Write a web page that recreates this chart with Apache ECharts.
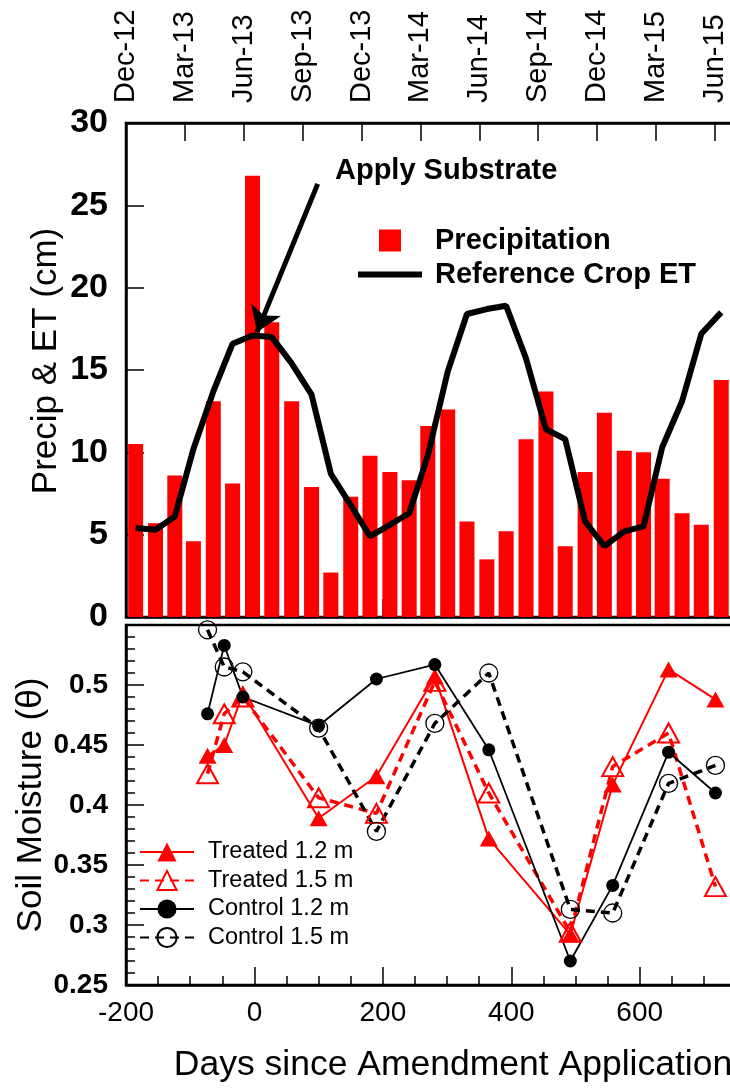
<!DOCTYPE html>
<html>
<head>
<meta charset="utf-8">
<script src="https://cdn.jsdelivr.net/npm/echarts@6/dist/echarts.min.js"></script>
<style>
  html, body { margin: 0; padding: 0; background: #fff; overflow: hidden; }
  /* the original figure runs past the right edge of the picture, so the canvas is wider than the window */
  #chart { width: 770px; height: 1088px; }
</style>
</head>
<body>
<div id="chart"></div>
<script>
const FONT = '"Liberation Sans", Arial, sans-serif';

// monthly totals, placed at mid-month (days since amendment application)
const monthDays = [-185, -154, -124, -95, -64, -34, -3, 27, 58, 89, 119, 150, 180, 211, 241, 270,
                   301, 331, 362, 392, 423, 454, 484, 515, 545, 576, 606, 635, 666, 696, 727];
const precip = [10.5, 5.7, 8.6, 4.6, 13.1, 8.1, 26.8, 17.9, 13.1, 7.9, 2.7, 7.3, 9.8, 8.8, 8.3, 11.6,
                12.6, 5.8, 3.5, 5.2, 10.8, 13.7, 4.3, 8.8, 12.4, 10.1, 10.0, 8.4, 6.3, 5.6, 14.4];
const refET = [5.4, 5.3, 6.1, 10.2, 13.7, 16.6, 17.1, 17.0, 15.4, 13.5, 8.7, 6.8, 4.9, 5.6, 6.3, 9.8,
               14.9, 18.4, 18.7, 18.9, 15.7, 11.4, 10.8, 5.8, 4.3, 5.2, 5.5, 10.3, 13.1, 17.2, 18.5];

// x range of both panels (days); the right edge falls just outside the picture
const dayMin = -200;
const dayMax = 750;

// top axis: calendar quarters
const quarterDays = 91.7;
const quarterLabels = ['Dec-12', 'Mar-13', 'Jun-13', 'Sep-13', 'Dec-13', 'Mar-14', 'Jun-14',
                       'Sep-14', 'Dec-14', 'Mar-15', 'Jun-15'];

// soil moisture sampling
const sampleDays = [-73, -47, -18, 100, 190, 281, 365, 492, 558, 645, 718];
const treated12 = [0.441, 0.450, 0.493, 0.389, 0.424, 0.507, 0.372, 0.292, 0.417, 0.513, 0.488];
const treated15 = [0.426, 0.476, 0.490, 0.406, 0.393, 0.503, 0.410, 0.294, 0.432, 0.460, 0.332];
const control12 = [0.476, 0.533, 0.490, 0.466, 0.505, 0.517, 0.446, 0.270, 0.333, 0.444, 0.410];
const control15 = [0.546, 0.515, 0.511, 0.464, 0.378, 0.468, 0.510, 0.313, 0.310, 0.418, 0.433];

// "Apply Substrate" arrow, in data coords (day, cm)
const arrowFrom = [98.6, 26.3];
const arrowTo = [4, 17.3];

const pairs = (xs, ys) => xs.map((x, i) => [x, ys[i]]);

const chart = echarts.init(document.getElementById('chart'), null, { renderer: 'canvas' });

const axisLine = { show: true, onZero: false, lineStyle: { color: '#000', width: 2.5 } };
const tick = { show: true, inside: true, length: 18, lineStyle: { color: '#000', width: 1.5 } };
const minor = n => ({ show: true, splitNumber: n, length: 9, lineStyle: { color: '#000', width: 1.5 } });

chart.setOption({
    animation: false,
    textStyle: { fontFamily: FONT, color: '#000' },
    grid: [
        { left: 126, width: 610, top: 123, height: 494, show: true, borderColor: '#000', borderWidth: 2.5 },
        { left: 126, width: 610, top: 625, height: 360, show: true, borderColor: '#000', borderWidth: 2.5 }
    ],
    xAxis: [
        {
            gridIndex: 0, type: 'value', min: dayMin, max: dayMax, interval: 200, position: 'bottom',
            axisLine, axisTick: tick, axisLabel: { show: false }, splitLine: { show: false }
        },
        {
            gridIndex: 0, type: 'value', min: 0, max: (dayMax - dayMin) / quarterDays, interval: 1, position: 'top',
            axisLine, axisTick: tick, splitLine: { show: false },
            axisLabel: {
                rotate: -90, margin: 20, fontSize: 29, color: '#000', fontFamily: FONT,
                formatter: v => quarterLabels[Math.round(v)] || ''
            }
        },
        {
            gridIndex: 1, type: 'value', min: dayMin, max: dayMax, interval: 200, position: 'bottom',
            axisLine, axisTick: tick, minorTick: minor(4), splitLine: { show: false },
            axisLabel: { fontSize: 28, margin: 14, color: '#000', fontFamily: FONT, showMaxLabel: false },
            name: 'Days since Amendment Application', nameLocation: 'middle', nameGap: 62,
            nameMoveOverlap: false,
            nameTextStyle: { fontSize: 35.5, color: '#000', fontFamily: FONT, padding: [0, 0, 0, 44] }
        }
    ],
    yAxis: [
        {
            gridIndex: 0, type: 'value', min: 0, max: 30, interval: 5,
            axisLine, axisTick: tick, splitLine: { show: false },
            axisLabel: { fontSize: 34, fontWeight: 'bold', margin: 18, color: '#000', fontFamily: FONT },
            name: 'Precip & ET (cm)', nameLocation: 'middle', nameGap: 62, nameMoveOverlap: false,
            nameTextStyle: { fontSize: 35, color: '#000', fontFamily: FONT, padding: [0, 0, 0, 18] }
        },
        {
            gridIndex: 1, type: 'value', min: 0.25, max: 0.55, interval: 0.05,
            axisLine, axisTick: tick, minorTick: minor(5), splitLine: { show: false },
            axisLabel: { fontSize: 28, fontWeight: 'bold', margin: 18, color: '#000', fontFamily: FONT, showMaxLabel: false },
            name: 'Soil Moisture (\u03B8)', nameLocation: 'middle', nameGap: 77, nameMoveOverlap: false,
            nameTextStyle: { fontSize: 35, color: '#000', fontFamily: FONT }
        }
    ],
    legend: [
        {
            orient: 'vertical', left: 353, top: 221, itemWidth: 64, itemHeight: 22, itemGap: 5,
            selectedMode: false,
            data: [
                { name: 'Precipitation', icon: 'path://M0,0H10V10H0Z' },
                { name: 'Reference Crop ET', icon: 'path://M0,0H64V6H0Z' }
            ],
            textStyle: {
                fontSize: 29, fontWeight: 'bold', color: '#000', fontFamily: FONT,
                lineHeight: 24, padding: [0, 0, 0, 8]
            }
        },
        {
            orient: 'vertical', left: 134, top: 835, itemWidth: 54, itemHeight: 24, itemGap: 4.5,
            selectedMode: false,
            data: ['Treated 1.2 m', 'Treated 1.5 m', 'Control 1.2 m', 'Control 1.5 m'],
            textStyle: { fontSize: 23.5, color: '#000', fontFamily: FONT, padding: [0, 0, 0, 9] }
        }
    ],
    graphic: [
        {
            type: 'text', left: 335, top: 156,
            style: { text: 'Apply Substrate', fontSize: 29, fontWeight: 'bold', fontFamily: FONT, fill: '#000' }
        }
    ],
    series: [
        {
            name: 'Precipitation', type: 'bar', xAxisIndex: 0, yAxisIndex: 0,
            data: pairs(monthDays, precip), barWidth: 15,
            itemStyle: { color: '#ff0000' }
        },
        {
            name: 'Reference Crop ET', type: 'line', xAxisIndex: 0, yAxisIndex: 0,
            data: pairs(monthDays, refET), symbol: 'none',
            lineStyle: { color: '#000', width: 6 }, itemStyle: { color: '#000' },
            markLine: {
                silent: true, symbol: ['none', 'arrow'], symbolSize: 24,
                label: { show: false },
                itemStyle: { color: '#000' },
                lineStyle: { color: '#000', width: 5, type: 'solid' },
                data: [[{ coord: arrowFrom }, { coord: arrowTo }]]
            }
        },
        {
            name: 'Treated 1.2 m', type: 'line', xAxisIndex: 2, yAxisIndex: 1,
            data: pairs(sampleDays, treated12), symbol: 'triangle', symbolSize: [18, 16],
            itemStyle: { color: '#ff0000' }, lineStyle: { color: '#ff0000', width: 2 }
        },
        {
            name: 'Treated 1.5 m', type: 'line', xAxisIndex: 2, yAxisIndex: 1,
            data: pairs(sampleDays, treated15), symbol: 'triangle', symbolSize: [21, 19],
            itemStyle: { color: 'rgba(255,0,0,0)', borderColor: '#ff0000', borderWidth: 2 },
            lineStyle: { color: '#ff0000', width: 3.5, type: [9, 6] }
        },
        {
            name: 'Control 1.2 m', type: 'line', xAxisIndex: 2, yAxisIndex: 1,
            data: pairs(sampleDays, control12), symbol: 'circle', symbolSize: 13,
            itemStyle: { color: '#000' }, lineStyle: { color: '#000', width: 1.8 }
        },
        {
            name: 'Control 1.5 m', type: 'line', xAxisIndex: 2, yAxisIndex: 1,
            data: pairs(sampleDays, control15), symbol: 'circle', symbolSize: 18,
            itemStyle: { color: 'rgba(0,0,0,0)', borderColor: '#000', borderWidth: 1.3 },
            lineStyle: { color: '#000', width: 3.5, type: [9, 6] }
        }
    ]
});
</script>
</body>
</html>
